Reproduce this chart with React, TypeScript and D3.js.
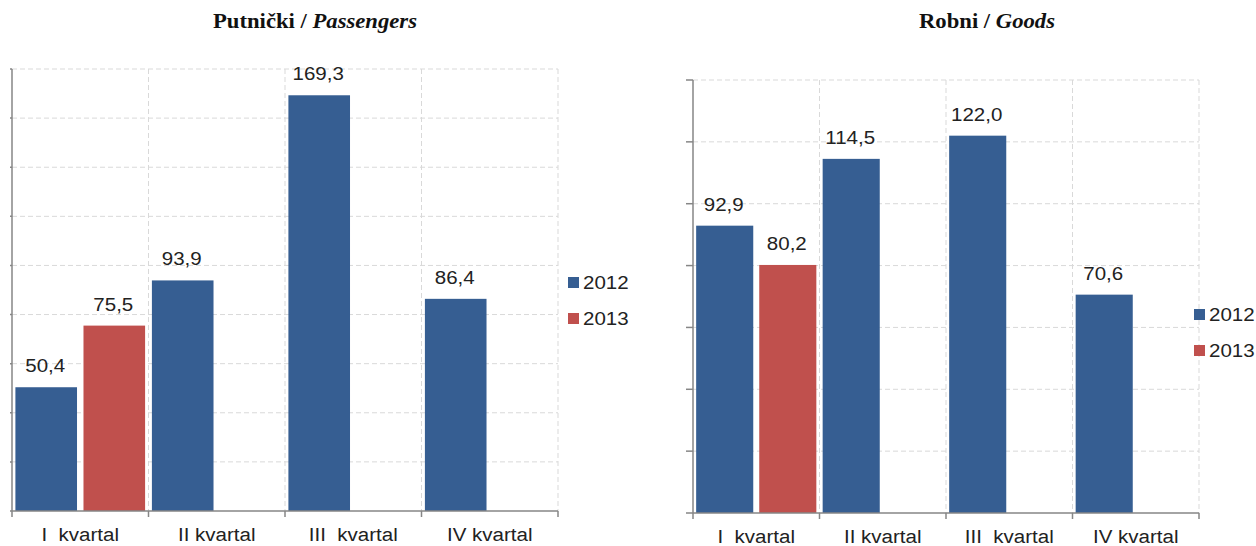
import React from 'react';
import * as d3 from 'd3';

const quarters = ['I  kvartal', 'II kvartal', 'III  kvartal', 'IV kvartal'];
const years = ['2012', '2013'];
const passengers2012 = [50.4, 93.9, 169.3, 86.4];
const passengers2013 = [75.5, null, null, null];
const goods2012 = [92.9, 114.5, 122.0, 70.6];
const goods2013 = [80.2, null, null, null];

const COLORS = ['#365e92', '#c0504d'];
const SANS = "'Liberation Sans', Arial, sans-serif";
const fmt = (v: number) => d3.format('.1f')(v).replace('.', ',');

// text a bit wider than the font, like the source picture
function T({ x, y, anchor = 'middle', size = 19, children, ...rest }: any) {
  return (
    <text
      transform={`translate(${x},${y}) scale(1.08,1)`}
      textAnchor={anchor}
      fontFamily={SANS}
      fontSize={size}
      fill="#222"
      style={{ whiteSpace: 'pre' }}
      {...rest}
    >
      {children}
    </text>
  );
}

type PanelProps = {
  title: string;
  titleItalic: string;
  titleX: number;
  left: number;
  right: number;
  top: number;
  bottom: number;
  yMax: number;
  yTickLen: number;
  series: (number | null)[][];
  legendX: number;
  legendY: number;
};

function Panel(p: PanelProps) {
  const x0 = d3.scaleBand().domain(quarters).range([p.left, p.right]).padding(0);
  const x1 = d3
    .scaleBand()
    .domain(years)
    .range([0, x0.bandwidth()])
    .paddingInner(0.095)
    .paddingOuter(0.05);
  const y = d3.scaleLinear().domain([0, p.yMax]).range([p.bottom, p.top]);
  const yTicks = d3.range(0, p.yMax + 1, 20);
  const xEdges = quarters.map(q => x0(q)!).concat([p.right]);

  return (
    <g>
      <T
        x={p.titleX}
        y={28}
        size={21}
        fontFamily="'Liberation Serif', 'Times New Roman', serif"
        fontWeight="bold"
        fill="#111"
      >
        {p.title}
        <tspan fontStyle="italic">{p.titleItalic}</tspan>
      </T>

      {/* grid */}
      {yTicks.slice(1).map(t => (
        <line
          key={'h' + t}
          x1={p.left}
          x2={p.right}
          y1={y(t)}
          y2={y(t)}
          stroke="#d9d9d9"
          strokeDasharray="5,3"
        />
      ))}
      {xEdges.slice(1).map((e, i) => (
        <line
          key={'v' + i}
          x1={e}
          x2={e}
          y1={p.top}
          y2={p.bottom}
          stroke="#d9d9d9"
          strokeDasharray="5,3"
        />
      ))}

      {/* bars */}
      {p.series.map((vals, si) =>
        quarters.map((q, qi) => {
          const v = vals[qi];
          if (v == null) return null;
          const bx = x0(q)! + x1(years[si])!;
          return (
            <g key={si + '-' + qi}>
              <rect
                x={bx}
                y={y(v)}
                width={x1.bandwidth()}
                height={p.bottom - y(v)}
                fill={COLORS[si]}
              />
              <T x={bx + x1.bandwidth() / 2 - 1} y={y(v) - 15}>
                {fmt(v)}
              </T>
            </g>
          );
        })
      )}

      {/* axes */}
      <line x1={p.left} x2={p.left} y1={p.top} y2={p.bottom} stroke="#868686" strokeWidth={1.5} />
      {yTicks.map(t => (
        <line
          key={'yt' + t}
          x1={p.left - p.yTickLen}
          x2={p.left}
          y1={y(t)}
          y2={y(t)}
          stroke="#868686"
          strokeWidth={1.5}
        />
      ))}
      <line x1={p.left} x2={p.right} y1={p.bottom} y2={p.bottom} stroke="#868686" strokeWidth={1.5} />
      {xEdges.map((e, i) => (
        <line
          key={'xt' + i}
          x1={e}
          x2={e}
          y1={p.bottom}
          y2={p.bottom + 6}
          stroke="#868686"
          strokeWidth={1.5}
        />
      ))}
      {quarters.map(q => (
        <T key={q} x={x0(q)! + x0.bandwidth() / 2} y={p.bottom + 30}>
          {q}
        </T>
      ))}

      {/* legend */}
      {years.map((yr, i) => (
        <g key={yr} transform={`translate(${p.legendX},${p.legendY + i * 36})`}>
          <rect x={0} y={0} width={11} height={11} fill={COLORS[i]} />
          <T x={15} y={12} anchor="start">
            {yr}
          </T>
        </g>
      ))}
    </g>
  );
}

export default function App() {
  return (
    <svg
      width={1256}
      height={546}
      style={{ position: 'absolute', left: 0, top: 0, background: '#fff' }}
    >
      <Panel
        title="Putnički / "
        titleItalic="Passengers"
        titleX={315}
        left={12}
        right={558}
        top={69}
        bottom={511}
        yMax={180}
        yTickLen={2}
        series={[passengers2012, passengers2013]}
        legendX={568}
        legendY={277}
      />
      <Panel
        title="Robni / "
        titleItalic="Goods"
        titleX={987}
        left={693}
        right={1199}
        top={80}
        bottom={513}
        yMax={140}
        yTickLen={7}
        series={[goods2012, goods2013]}
        legendX={1194}
        legendY={309}
      />
    </svg>
  );
}
